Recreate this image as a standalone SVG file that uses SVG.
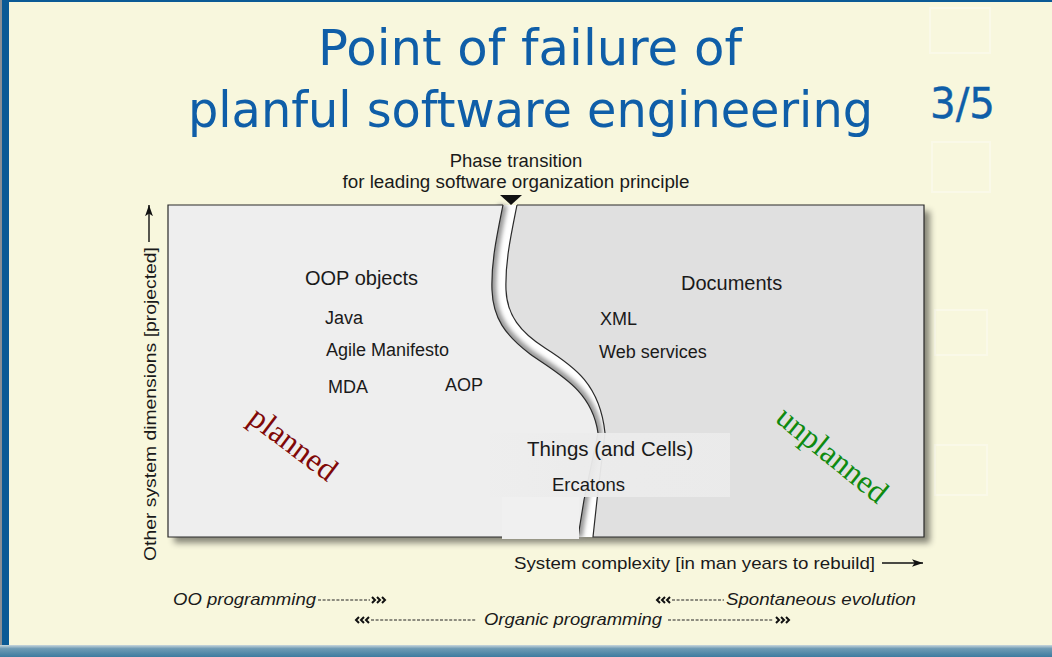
<svg xmlns="http://www.w3.org/2000/svg" width="1052" height="657" viewBox="0 0 1052 657">
  <defs>
    <style>
      .title { font-family: "DejaVu Sans", "Liberation Sans", sans-serif; fill: #0f5ea8; }
      .lbl { font-family: "Liberation Sans", Arial, sans-serif; fill: #1a1a1a; }
      .it { font-family: "Liberation Sans", Arial, sans-serif; font-style: italic; fill: #1a1a1a; font-size: 17px; }
      .dash { stroke: #222; stroke-width: 1.2; stroke-dasharray: 3 1.6; fill: none; }
      .edge { fill: none; stroke: #2a2a2a; stroke-width: 1.2; }
      .chev { fill: none; stroke: #111; stroke-width: 2; }
    </style>
    <linearGradient id="bottomBar" x1="0" y1="0" x2="0" y2="1">
      <stop offset="0" stop-color="#c9d7dc"/>
      <stop offset="0.3" stop-color="#6f9bb4"/>
      <stop offset="1" stop-color="#3d7ba0"/>
    </linearGradient>
    <linearGradient id="band" x1="0" y1="0" x2="1" y2="0">
      <stop offset="0" stop-color="#ededed" stop-opacity="0.4"/>
      <stop offset="0.3" stop-color="#ececec" stop-opacity="0.95"/>
      <stop offset="1" stop-color="#ebebeb" stop-opacity="0.95"/>
    </linearGradient>
    <filter id="shadow" x="-5%" y="-5%" width="115%" height="115%">
      <feDropShadow dx="6" dy="6" stdDeviation="3" flood-color="#000" flood-opacity="0.45"/>
    </filter>
    <filter id="soft" x="-20%" y="-5%" width="140%" height="110%">
      <feGaussianBlur stdDeviation="2"/>
    </filter>
    <marker id="arr" viewBox="0 0 10 10" refX="10" refY="5" markerWidth="8" markerHeight="8" orient="auto">
      <path d="M0,1.5 L10,5 L0,8.5 L2.5,5 Z" fill="#111"/>
    </marker>
    <g id="chevR">
      <path class="chev" d="M0,-3 L3,0 L0,3 M5,-3 L8,0 L5,3 M10,-3 L13,0 L10,3"/>
    </g>
    <g id="chevL">
      <path class="chev" d="M3,-3 L0,0 L3,3 M8,-3 L5,0 L8,3 M13,-3 L10,0 L13,3"/>
    </g>
  </defs>

  <!-- slide background -->
  <rect x="0" y="0" width="1052" height="657" fill="#f8f7dd"/>
  <g opacity="0.35" fill="none" stroke="#ffffff" stroke-width="2">
    <rect x="930" y="8" width="60" height="45"/>
    <rect x="932" y="142" width="58" height="50"/>
    <rect x="935" y="310" width="52" height="45"/>
    <rect x="935" y="445" width="52" height="50"/>
  </g>
  <rect x="0" y="0" width="2" height="657" fill="#8a8f94"/>
  <rect x="2" y="0" width="7" height="657" fill="#0b5a95"/>
  <rect x="9" y="0" width="1043" height="2" fill="#0b5a95"/>
  <rect x="0" y="645" width="1052" height="12" fill="url(#bottomBar)"/>

  <!-- title -->
  <g id="title">
    <text class="title" x="318" y="65" font-size="50" textLength="424" lengthAdjust="spacingAndGlyphs">Point of failure of</text>
    <text class="title" x="188" y="127" font-size="50" textLength="685" lengthAdjust="spacingAndGlyphs">planful software engineering</text>
    <text class="title" x="930" y="118" font-size="42" textLength="65" lengthAdjust="spacingAndGlyphs" stroke="#0f5ea8" stroke-width="0.4">3/5</text>
  </g>

  <!-- phase transition label and marker -->
  <g id="phase-transition">
    <text class="lbl" x="516" y="167" font-size="18.5" text-anchor="middle">Phase transition</text>
    <text class="lbl" x="516" y="188" font-size="18" text-anchor="middle" textLength="347" lengthAdjust="spacingAndGlyphs">for leading software organization principle</text>
    <polygon points="500,195 522,195 511,205" fill="#111"/>
  </g>

  <!-- two regions split by the curved crack -->
  <g id="regions">
    <g filter="url(#shadow)">
      <rect x="168" y="205" width="756" height="332" fill="#ffffff"/>
    </g>
    <!-- groove shading on the left wall of the crack -->
    <path d="M503,205 C497,235 491,262 492,290 C493,318 505,335 530,354 C558,374 592,390 598,433 L584,500 L578,537" fill="none" stroke="#9a9a9a" stroke-width="9" filter="url(#soft)"/>
    <path id="left-panel" d="M168,205 H503 C497,235 491,262 492,290 C493,318 505,335 530,354 C558,374 592,390 598,433 L584,500 L578,537 H168 Z" fill="#eeeeee"/>
    <path id="right-panel" d="M517,205 H924 V537 H593 L597,500 L605,433 C600,385 575,367 545,348 C520,332 507,315 506,290 C505,262 511,235 517,205 Z" fill="#e0e0e0"/>
    <path class="edge" d="M503,205 H168 V537 H578 L584,500 L598,433 C592,390 558,374 530,354 C505,335 493,318 492,290 C491,262 497,235 503,205"/>
    <path class="edge" d="M517,205 H924 V537 H593 L597,500 L605,433 C600,385 575,367 545,348 C520,332 507,315 506,290 C505,262 511,235 517,205"/>
    <!-- label band across the crack -->
    <rect x="490" y="433" width="240" height="64" fill="url(#band)"/>
    <rect x="502" y="497" width="77" height="42" fill="#f0f0f0"/>
  </g>

  <!-- planned side -->
  <g id="planned-items">
    <text class="lbl" x="305" y="285" font-size="20">OOP objects</text>
    <text class="lbl" x="325" y="324" font-size="18">Java</text>
    <text class="lbl" x="326" y="356" font-size="18">Agile Manifesto</text>
    <text class="lbl" x="328" y="393" font-size="18">MDA</text>
    <text class="lbl" x="445" y="391" font-size="18">AOP</text>
    <text x="293" y="454" font-family="Liberation Serif, Times New Roman, serif" font-size="32" fill="#800808" text-anchor="middle" transform="rotate(37 293 444)">planned</text>
  </g>

  <!-- unplanned side -->
  <g id="unplanned-items">
    <text class="lbl" x="681" y="290" font-size="20">Documents</text>
    <text class="lbl" x="600" y="325" font-size="18">XML</text>
    <text class="lbl" x="599" y="358" font-size="18">Web services</text>
    <text x="832" y="465" font-family="Liberation Serif, Times New Roman, serif" font-size="32" fill="#0f8a0f" text-anchor="middle" transform="rotate(39 832 455)">unplanned</text>
  </g>

  <!-- items on the crack -->
  <g id="crack-items">
    <text class="lbl" x="527" y="456" font-size="20.5">Things (and Cells)</text>
    <text class="lbl" x="552" y="491" font-size="18.5">Ercatons</text>
  </g>

  <!-- axes -->
  <g id="axes">
    <text class="lbl" font-size="17" transform="translate(156,561) rotate(-90)" textLength="314" lengthAdjust="spacingAndGlyphs">Other system dimensions [projected]</text>
    <line x1="149" y1="242" x2="149" y2="205" stroke="#111" stroke-width="1.4" marker-end="url(#arr)"/>
    <text class="lbl" x="514" y="569" font-size="17" textLength="361" lengthAdjust="spacingAndGlyphs">System complexity [in man years to rebuild]</text>
    <line x1="882" y1="563" x2="923" y2="563" stroke="#111" stroke-width="1.4" marker-end="url(#arr)"/>
  </g>

  <!-- programming styles along the complexity axis -->
  <g id="connectors">
    <line class="dash" x1="318" y1="600" x2="370" y2="600"/>
    <use href="#chevR" x="372" y="600"/>
    <use href="#chevL" x="657" y="600"/>
    <line class="dash" x1="672" y1="600" x2="724" y2="600"/>
    <use href="#chevL" x="356" y="620"/>
    <line class="dash" x1="371" y1="620" x2="476" y2="620"/>
    <line class="dash" x1="668" y1="620" x2="773" y2="620"/>
    <use href="#chevR" x="776" y="620"/>
  </g>
  <g id="styles">
    <text class="it" x="173" y="605" textLength="143" lengthAdjust="spacingAndGlyphs">OO programming</text>
    <text class="it" x="726" y="605" textLength="190" lengthAdjust="spacingAndGlyphs">Spontaneous evolution</text>
    <text class="it" x="484" y="625" textLength="178" lengthAdjust="spacingAndGlyphs">Organic programming</text>
  </g>
</svg>
